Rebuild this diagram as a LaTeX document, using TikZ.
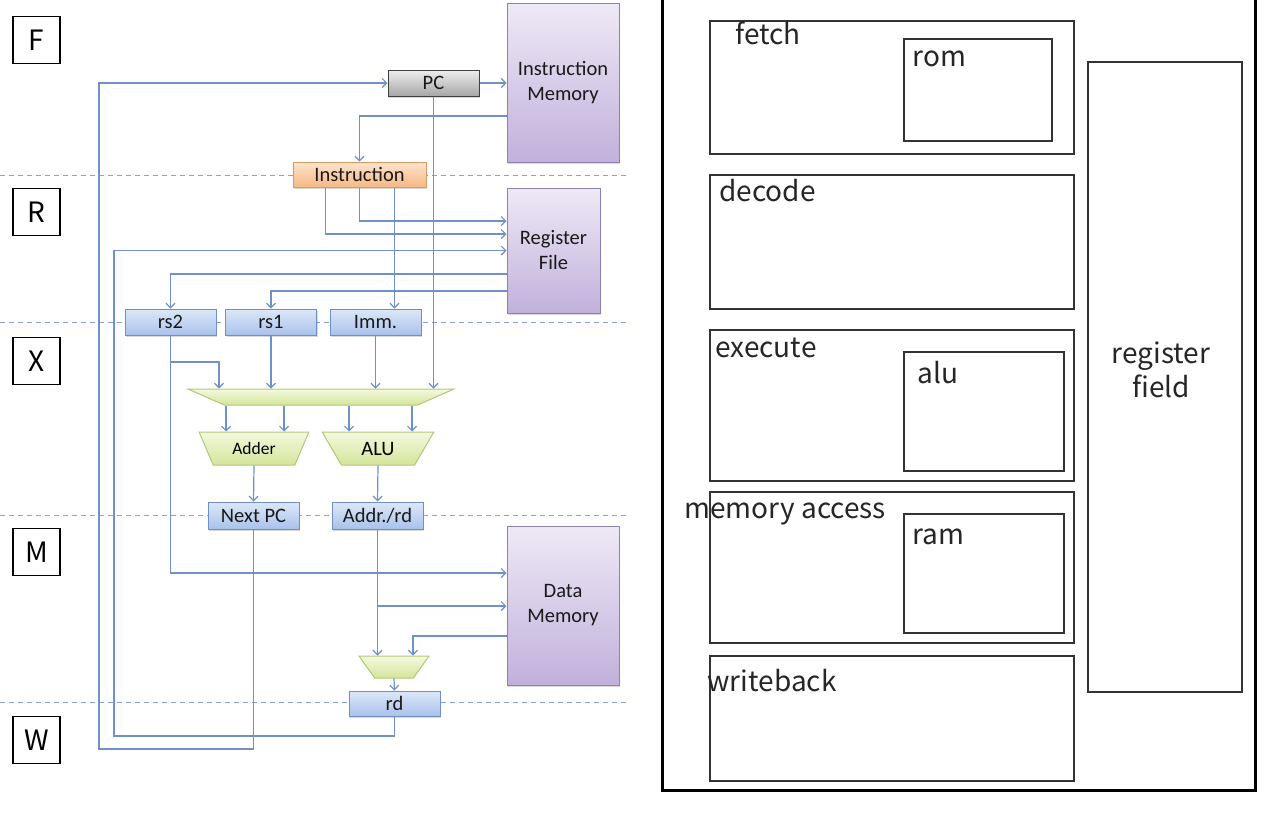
\documentclass[tikz,border=0pt]{standalone}
\usepackage{fontspec}
\setmainfont{Carlito}
\newfontfamily\panelfont{Noto Sans CJK JP}
\usetikzlibrary{arrows.meta,shapes.geometric,shadows}

\definecolor{wireblue}{HTML}{6F91C8}
\definecolor{bluetop}{HTML}{DDE8F8}
\definecolor{bluebot}{HTML}{A9C2EC}
\definecolor{blueedge}{HTML}{6F8FC5}
\definecolor{purptop}{HTML}{EEE9F6}
\definecolor{purpbot}{HTML}{C1B1DB}
\definecolor{purpedge}{HTML}{8E80B2}
\definecolor{orgtop}{HTML}{FDE4CD}
\definecolor{orgbot}{HTML}{F5B883}
\definecolor{orgedge}{HTML}{D99A64}
\definecolor{graytop}{HTML}{EEEEEE}
\definecolor{graybot}{HTML}{A6A6A6}
\definecolor{grntop}{HTML}{F4F9DE}
\definecolor{grnbot}{HTML}{D4E59A}
\definecolor{grnedge}{HTML}{B2C77A}

\begin{document}
\begin{tikzpicture}[x=1pt,y=-1pt,
  wire/.style={draw=wireblue,line width=1.2pt,-{Straight Barb[length=4.5pt,width=9pt]}},
  stageline/.style={draw=wireblue!85,line width=0.8pt,dash pattern=on 5pt off 4pt},
  block/.style={rectangle,inner sep=0pt,align=center,line width=1pt,text=black!90,
    font=\fontsize{20.5}{25}\selectfont,
    drop shadow={shadow xshift=1.2pt,shadow yshift=-1.5pt,opacity=0.3}},
  regblock/.style={block,draw=blueedge,top color=bluetop,bottom color=bluebot,
    minimum width=91pt,minimum height=26pt},
  memblock/.style={block,draw=purpedge,top color=purptop,bottom color=purpbot},
  muxblock/.style={trapezium,shape border rotate=180,trapezium stretches=true,
    inner sep=1pt,line width=1pt,draw=grnedge,top color=grntop,bottom color=grnbot,
    font=\fontsize{20.5}{25}\selectfont},
  stagebox/.style={draw,line width=1.6pt,minimum size=47pt,inner sep=0pt,
    font=\panelfont\fontsize{28}{30}\selectfont},
  panelbox/.style={draw=black!80,line width=1.5pt,inner sep=0pt},
  paneltext/.style={anchor=base west,inner sep=0pt,text=black!85,
    font=\panelfont\fontsize{28}{34}\selectfont}]
  \useasboundingbox (0,0) rectangle (1280,820);

  % pipeline stage borders
  \foreach \y in {175,322,515,702}
    \draw[stageline] (0,\y) -- (628,\y);

  % stage names
  \node[stagebox] (stF) at (36.5,40) {F};
  \node[stagebox] (stR) at (36.5,212) {R};
  \node[stagebox] (stX) at (36.5,361) {X};
  \node[stagebox] (stM) at (36.5,552) {M};
  \node[stagebox] (stW) at (36.5,740) {W};

  % data path
  \node[block,draw=black!75,top color=graytop,bottom color=graybot,
    minimum width=91pt,minimum height=26pt] (pc) at (433.5,83) {PC};
  \node[memblock,minimum width=112pt,minimum height=159pt] (imem) at (563,82.5) {Instruction\\Memory};
  \node[block,draw=orgedge,top color=orgtop,bottom color=orgbot,
    minimum width=133pt,minimum height=25pt] (instr) at (359.5,174.5) {Instruction};
  \node[memblock,minimum width=93pt,minimum height=125pt] (regfile) at (553.5,250.5) {Register\\File};
  \node[regblock] (rstwo) at (170.5,322) {rs2};
  \node[regblock] (rsone) at (271,322) {rs1};
  \node[regblock] (imm) at (375.5,322) {Imm.};
  \node[muxblock,minimum width=266pt,minimum height=16pt,
    trapezium angle=79.4] (sel) at (321,397) {};
  \node[muxblock,minimum width=110pt,minimum height=33pt,font=\fontsize{17.5}{20}\selectfont,
    trapezium angle=61.4] (adder) at (254,448.5) {Adder};
  \node[muxblock,minimum width=112pt,minimum height=33pt,
    trapezium angle=59] (alu) at (378,448.5) {ALU};
  \node[regblock,minimum height=27pt] (nextpc) at (253.5,515.5) {Next PC};
  \node[regblock,minimum height=27pt] (addr) at (377.5,515.5) {Addr./rd};
  \node[memblock,minimum width=112pt,minimum height=159pt] (dmem) at (563,605.5) {Data\\Memory};
  \node[muxblock,minimum width=70pt,minimum height=22pt,
    trapezium angle=68] (wsel) at (394,667) {};
  \node[regblock,minimum height=25pt] (rd) at (394.5,703.5) {rd};

  \coordinate (pcloop) at (99,749);
  \coordinate (rdloop) at (114,736);

  \draw[wire] (nextpc.south) |- (pcloop) |- (pc.west);
  \draw[wire] (rd.south) |- (rdloop) |- (regfile.west);
  \draw[wire] (pc.east) -- (pc.east -| imem.west);
  \draw[wire] (pc.south) -- (pc.south |- sel.north);
  \draw[wire] (imem.west |- 0,116) -| (instr.north);
  \draw[wire] ([xshift=-34pt]instr.south) |- (regfile.west |- 0,234);
  \draw[wire] (instr.south) |- (regfile.west |- 0,221);
  \draw[wire] ([xshift=35pt]instr.south) -- ([xshift=35pt]instr.south |- imm.north);
  \draw[wire] (regfile.west |- 0,274) -| (rstwo.north);
  \draw[wire] (regfile.west |- 0,291) -| (rsone.north);
  \draw[wire] (rstwo.south) |- (dmem.west |- 0,573);
  \draw[wire] (rstwo.south |- 0,362) -| ([xshift=-102pt]sel.north);
  \draw[wire] (rsone.south) -- (rsone.south |- sel.north);
  \draw[wire] (imm.south) -- (imm.south |- sel.north);
  \foreach \dx in {-28,30}
    \draw[wire] ([xshift=\dx pt]adder.north |- sel.south) -- ([xshift=\dx pt]adder.north);
  \foreach \dx in {-29,34}
    \draw[wire] ([xshift=\dx pt]alu.north |- sel.south) -- ([xshift=\dx pt]alu.north);
  \draw[wire] (adder.south) -- (nextpc.north);
  \draw[wire] (alu.south) -- (addr.north);
  \draw[wire] (addr.south) -- (addr.south |- wsel.north);
  \draw[wire] (addr.south |- 0,606) -- (dmem.west |- 0,606);
  \draw[wire] (dmem.west |- 0,636) -| ([xshift=19pt]wsel.north);
  \draw[wire] (wsel.south) -- (rd.north);

  % module layout
  \draw[line width=3pt] (662,-10) -- (662,790) -- (1255,790) -- (1255,-10);
  \node[panelbox,minimum width=364pt,minimum height=133pt] (fetchbox) at (892,87.5) {};
  \node[panelbox,minimum width=148pt,minimum height=102pt] (rombox) at (978,90) {};
  \node[panelbox,minimum width=364pt,minimum height=134pt] (decodebox) at (892,242) {};
  \node[panelbox,minimum width=364pt,minimum height=151pt] (execbox) at (892,405.5) {};
  \node[panelbox,minimum width=160pt,minimum height=119pt] (alubox) at (984,411.5) {};
  \node[panelbox,minimum width=364pt,minimum height=151pt] (membox) at (892,567.5) {};
  \node[panelbox,minimum width=160pt,minimum height=119pt] (rambox) at (984,573.5) {};
  \node[panelbox,minimum width=364pt,minimum height=125pt] (wbbox) at (892,718.5) {};
  \node[panelbox,minimum width=154pt,minimum height=630pt] (regbox) at (1165,377) {};

  \node[paneltext] at ([xshift=26pt,yshift=-24pt]fetchbox.north west) {fetch};
  \node[paneltext] at ([xshift=9pt,yshift=-28pt]rombox.north west) {rom};
  \node[paneltext] at ([xshift=10pt,yshift=-27pt]decodebox.north west) {decode};
  \node[paneltext] at ([xshift=6pt,yshift=-28pt]execbox.north west) {execute};
  \node[paneltext] at ([xshift=14pt,yshift=-32pt]alubox.north west) {alu};
  \node[paneltext] at ([xshift=-25pt,yshift=-27pt]membox.north west) {memory access};
  \node[paneltext] at ([xshift=9pt,yshift=-31pt]rambox.north west) {ram};
  \node[paneltext] at ([xshift=-2pt,yshift=-36pt]wbbox.north west) {writeback};
  \node[paneltext,anchor=center,align=center] at ([xshift=-4pt,yshift=7pt]regbox.center) {register\\field};
\end{tikzpicture}
\end{document}
